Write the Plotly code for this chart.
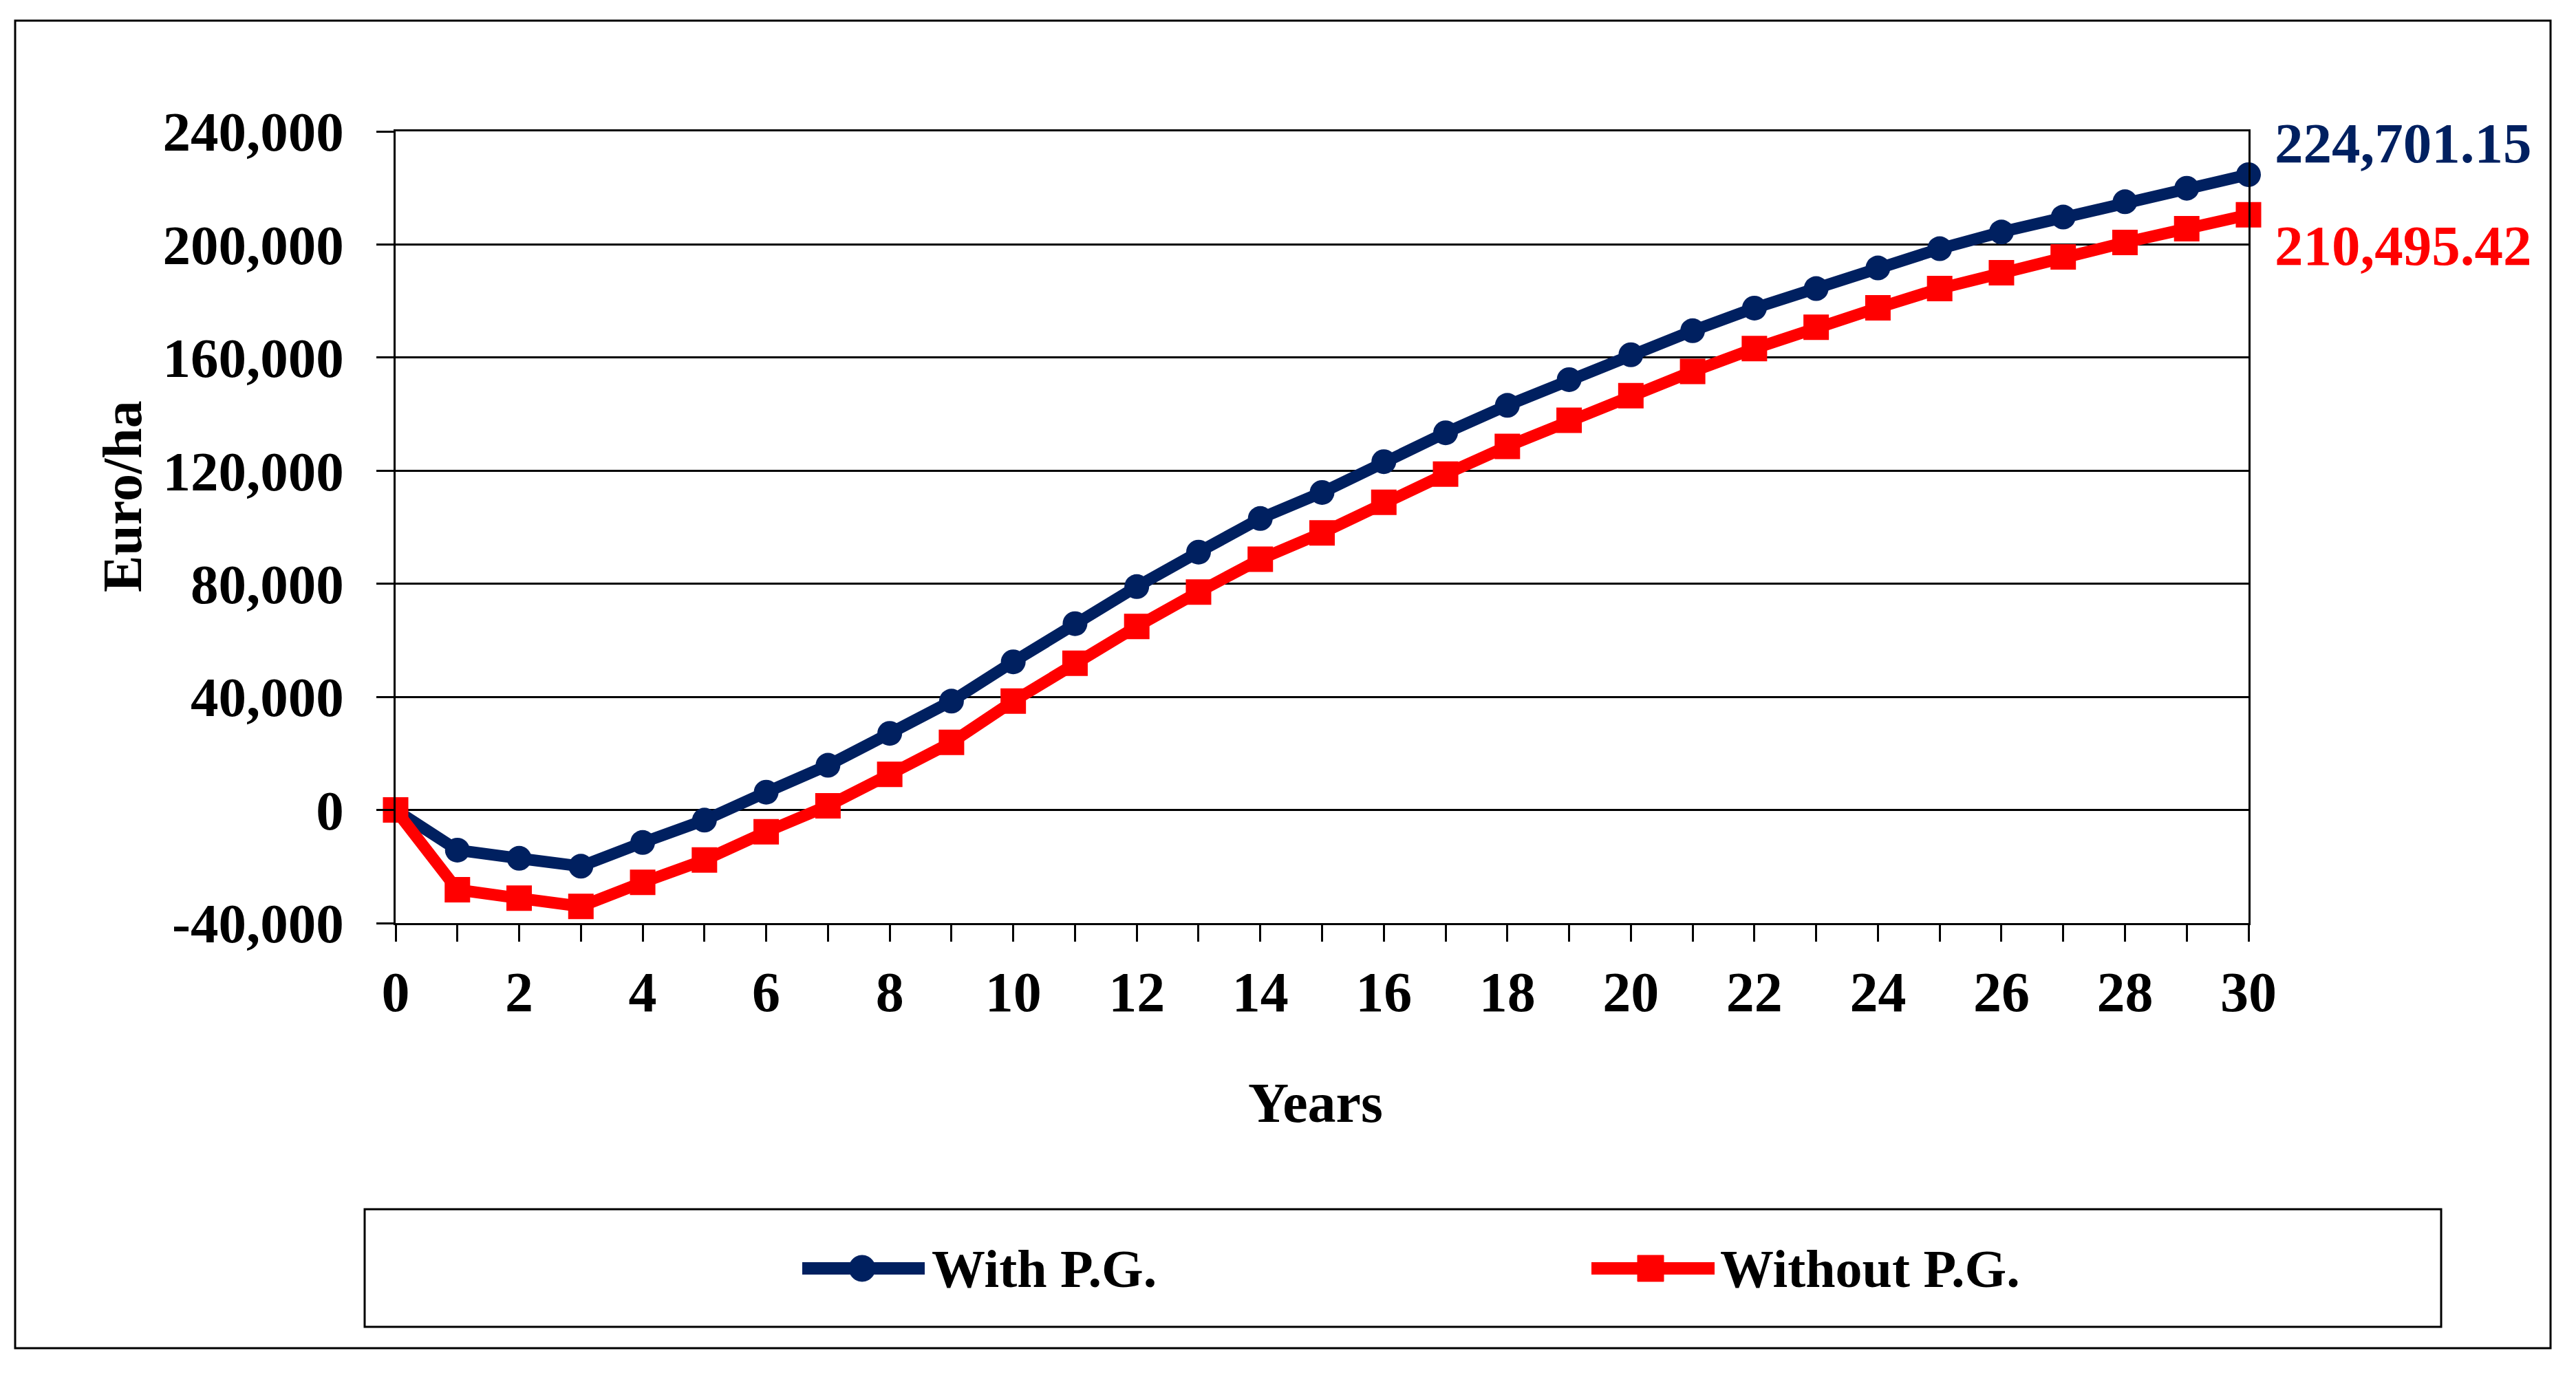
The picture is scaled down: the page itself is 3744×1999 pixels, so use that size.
import plotly.graph_objects as go

years = list(range(0, 31))
with_pg = [0, -14200, -17100, -19900, -11500, -3600, 6300, 15800, 27100, 38500,
           52400, 65900, 79000, 91200, 103100, 112300, 123200, 133400, 143100, 152200,
           161000, 169500, 177500, 184400, 191700, 198500, 204400, 209700, 215100, 219900,
           224701.15]
without_pg = [0, -28200, -31200, -34100, -25600, -17700, -7700, 1500, 12600, 23900,
              38500, 51900, 64900, 77100, 88700, 98000, 108800, 118800, 128600, 137800,
              146500, 155100, 163200, 170700, 177600, 184400, 190000, 195600, 200700, 205600,
              210495.42]
series_names = ["With P.G.", "Without P.G."]
end_labels = ["224,701.15", "210,495.42"]
y_tick_vals = [-40000, 0, 40000, 80000, 120000, 160000, 200000, 240000]
y_tick_text = ["-40,000", "0", "40,000", "80,000", "120,000", "160,000", "200,000", "240,000"]
x_title = "Years"
y_title = "Euro/ha"

BLUE = "#002060"
RED = "#FF0000"
FONT = "Times New Roman, Liberation Serif, serif"

OFF = 8  # default page body margin
W, H = 3744 - 2 * OFF, 1999 - 2 * OFF
# plot area in screen pixels
L, R, T, B = 575, 3268, 191, 1342


def px(x):
    return (x - L) / (R - L)


def py(y):
    return (B - y) / (B - T)


fig = go.Figure()
fig.add_trace(go.Scatter(
    x=years, y=with_pg, name=series_names[0], mode="lines+markers",
    line=dict(color=BLUE, width=17),
    marker=dict(symbol="circle", size=36, color=BLUE),
    showlegend=False, cliponaxis=False))
fig.add_trace(go.Scatter(
    x=years, y=without_pg, name=series_names[1], mode="lines+markers",
    line=dict(color=RED, width=17),
    marker=dict(symbol="square", size=37, color=RED),
    showlegend=False, cliponaxis=False))

# end-of-series value labels
fig.add_annotation(x=years[-1], y=with_pg[-1], text="<b>%s</b>" % end_labels[0],
                   showarrow=False, xanchor="left", yanchor="middle", xshift=36, yshift=46,
                   font=dict(family=FONT, size=83, color=BLUE))
fig.add_annotation(x=years[-1], y=without_pg[-1], text="<b>%s</b>" % end_labels[1],
                   showarrow=False, xanchor="left", yanchor="middle", xshift=36, yshift=-45,
                   font=dict(family=FONT, size=83, color=RED))

# axis titles
fig.add_annotation(xref="paper", yref="paper", x=px(1912), y=py(1603), text="<b>%s</b>" % x_title,
                   showarrow=False, xanchor="center", yanchor="middle",
                   font=dict(family=FONT, size=82, color="black"))
fig.add_annotation(xref="paper", yref="paper", x=px(178), y=py(722), text="<b>%s</b>" % y_title,
                   showarrow=False, xanchor="center", yanchor="middle", textangle=-90,
                   font=dict(family=FONT, size=80, color="black"))

shapes = []
# outer chart border
shapes.append(dict(type="rect", xref="paper", yref="paper",
                   x0=px(22), x1=px(3707), y0=py(30), y1=py(1960),
                   line=dict(color="black", width=3), layer="below"))
# legend box
shapes.append(dict(type="rect", xref="paper", yref="paper",
                   x0=px(530), x1=px(3548), y0=py(1758), y1=py(1929),
                   line=dict(color="black", width=3)))
# legend keys
leg_y = 1844
keys = [(1166, 1344, 1253, BLUE, "circle", 1352, series_names[0]),
        (2313, 2492, 2399, RED, "square", 2498, series_names[1])]
for x0, x1, xc, col, sym, tx, name in keys:
    shapes.append(dict(type="line", xref="paper", yref="paper",
                       x0=px(x0), x1=px(x1), y0=py(leg_y), y1=py(leg_y),
                       line=dict(color=col, width=18)))
    h = 19
    stype = "circle" if sym == "circle" else "rect"
    shapes.append(dict(type=stype, xref="paper", yref="paper",
                       x0=px(xc - h), x1=px(xc + h), y0=py(leg_y - h), y1=py(leg_y + h),
                       fillcolor=col, line=dict(color=col, width=1)))
    fig.add_annotation(xref="paper", yref="paper", x=px(tx), y=py(leg_y), text="<b>%s</b>" % name,
                       showarrow=False, xanchor="left", yanchor="middle",
                       font=dict(family=FONT, size=78, color="black"))

fig.update_layout(
    width=W, height=H, autosize=False,
    margin=dict(l=L - OFF, r=W - (R - OFF), t=T - OFF, b=H - (B - OFF), pad=0),
    paper_bgcolor="white", plot_bgcolor="white",
    shapes=shapes,
    font=dict(family=FONT, size=80, color="black"),
)
fig.update_xaxes(
    range=[0, 30], tickmode="linear", tick0=0, dtick=2,
    ticks="outside", ticklen=24, tickwidth=3, tickcolor="black",
    minor=dict(dtick=1, tick0=0, ticks="outside", ticklen=24, tickwidth=3, tickcolor="black"),
    showline=True, linecolor="black", linewidth=3, mirror=True,
    showgrid=False, zeroline=False,
    tickfont=dict(family=FONT, size=82, color="black"),
    ticklabelstandoff=3,
    tickprefix="<b>", ticksuffix="</b>",
)
fig.update_yaxes(
    range=[-40000, 240000], tickmode="array", tickvals=y_tick_vals,
    ticktext=["<b>%s</b>" % t for t in y_tick_text],
    ticks="outside", ticklen=25, tickwidth=3, tickcolor="black",
    showline=True, linecolor="black", linewidth=3, mirror=True,
    showgrid=True, gridcolor="black", gridwidth=3, zeroline=False,
    tickfont=dict(family=FONT, size=81, color="black"),
    ticklabelstandoff=31,
)

fig.write_html("out.html")
